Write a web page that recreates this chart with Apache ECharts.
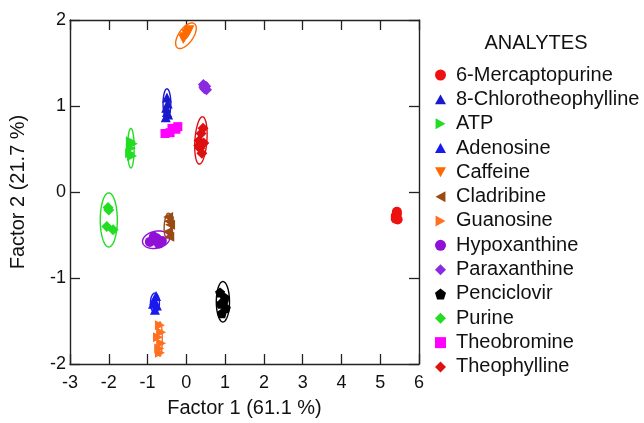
<!DOCTYPE html>
<html><head><meta charset="utf-8">
<script src="https://cdn.jsdelivr.net/npm/echarts@6/dist/echarts.min.js"></script>
<style>html,body{margin:0;padding:0;background:#fff}#c{width:644px;height:423px}</style>
</head><body><div id="c"></div>
<script>
const xTicks = [-3, -2, -1, 0, 1, 2, 3, 4, 5, 6];
const yTicks = [-2, -1, 0, 1, 2];
const analytes = ['6-Mercaptopurine','8-Chlorotheophylline','ATP','Adenosine','Caffeine','Cladribine','Guanosine','Hypoxanthine','Paraxanthine','Penciclovir','Purine','Theobromine','Theophylline'];

const mercaptopurine = [[5.43,-0.23],[5.40,-0.28],[5.45,-0.32],[5.43,-0.26],[5.40,-0.31]];
const chlorotheophylline = [[-0.50,1.10],[-0.48,1.03],[-0.52,0.98],[-0.50,0.93],[-0.47,0.90],[-0.53,0.87]];
const atp = [[-1.43,0.59],[-1.38,0.56],[-1.45,0.45],[-1.40,0.42],[-1.43,0.51]];
const adenosine = [[-0.78,-1.21],[-0.83,-1.26],[-0.76,-1.32],[-0.81,-1.37],[-0.86,-1.30]];
const caffeine = [[-0.08,1.78],[0.00,1.83],[0.05,1.86],[-0.05,1.80],[0.08,1.88],[0.02,1.84]];
const cladribine = [[-0.47,-0.29],[-0.42,-0.38],[-0.47,-0.46],[-0.44,-0.52],[-0.45,-0.34]];
const guanosine = [[-0.68,-1.55],[-0.65,-1.63],[-0.73,-1.69],[-0.65,-1.76],[-0.70,-1.82],[-0.68,-1.87]];
const hypoxanthine = [[-0.94,-0.58],[-0.76,-0.54],[-0.63,-0.57],[-0.84,-0.52],[-0.71,-0.60]];
const paraxanthine = [[0.44,1.25],[0.50,1.23],[0.47,1.20],[0.52,1.19],[0.45,1.22]];
const penciclovir = [[0.87,-1.17],[0.99,-1.23],[0.89,-1.30],[1.02,-1.35],[0.92,-1.41],[0.97,-1.27]];
const purine = [[-2.00,-0.21],[-2.05,-0.40],[-1.89,-0.44],[-2.02,-0.18]];
const theobromine = [[-0.55,0.68],[-0.37,0.74],[-0.22,0.76],[-0.42,0.69],[-0.27,0.73]];
const theophylline = [[0.43,0.74],[0.38,0.68],[0.33,0.60],[0.45,0.57],[0.35,0.51],[0.40,0.45],[0.32,0.54]];

// ellipse: [cx, cy, ux, uy, vx, vy] (two semi-axis vectors in data units)
const ellipses = [
  [5.42,-0.27,0,0.08,0.06,0],
  [-0.50,1.03,0,0.17,0.10,0],
  [-1.43,0.51,0,0.23,0.085,0],
  [-0.81,-1.29,0,0.115,0.115,0],
  [-0.01,1.817,0.22,0.14,-0.15,0.05],
  [-0.48,-0.39,0.02,0.145,0.09,0],
  [-0.68,-1.71,0,0.2,0.06,0],
  [-0.78,-0.555,0.35,0.02,0,0.1],
  [0.48,1.22,0,0.06,0.1,0],
  [0.943,-1.276,0,0.235,0.17,0],
  [-2.00,-0.325,0,0.315,0.22,0],
  null,
  [0.376,0.60,0.04,0.275,0.155,0]
];

const pointSets = [mercaptopurine, chlorotheophylline, atp, adenosine, caffeine, cladribine, guanosine, hypoxanthine, paraxanthine, penciclovir, purine, theobromine, theophylline];
const colors = ['#ee1111','#1a1acc','#22dd22','#1a1aee','#ff6a00','#9a4a12','#ff7020','#9010d8','#8a2be2','#000000','#22dd22','#ff00ff','#dd1111'];
const TRI_UP = 'path://M5,0 L10,9 L0,9 Z';
const TRI_DOWN = 'path://M0,0 L10,0 L5,9 Z';
const TRI_RIGHT = 'path://M0,0 L9,5 L0,10 Z';
const TRI_LEFT = 'path://M9,0 L0,5 L9,10 Z';
const PENTA = 'path://M5,0 L10,3.8 L8.1,10 L1.9,10 L0,3.8 Z';
const symbols = ['circle', TRI_UP, TRI_RIGHT, TRI_UP, TRI_DOWN, TRI_LEFT, TRI_RIGHT, 'circle', 'diamond', PENTA, 'diamond', 'rect', 'diamond'];
const symbolSizes = [10, 10, 10, 10, 10, 10, 10, 10, 11, 10, 11, 9, 11];

const series = [];
analytes.forEach((name, i) => {
  const e = ellipses[i];
  if (e) {
    series.push({
      type: 'custom', name: name + ' (ellipse)', silent: true, z: 1,
      data: [e],
      renderItem: function (params, api) {
        const cx = api.value(0), cy = api.value(1), ux = api.value(2), uy = api.value(3), vx = api.value(4), vy = api.value(5);
        const pts = [];
        for (let k = 0; k <= 72; k++) {
          const t = k / 72 * Math.PI * 2;
          pts.push(api.coord([cx + Math.cos(t) * ux + Math.sin(t) * vx, cy + Math.cos(t) * uy + Math.sin(t) * vy]));
        }
        return { type: 'polyline', shape: { points: pts }, style: { stroke: colors[i], lineWidth: 1.4, fill: null } };
      }
    });
  }
});
analytes.forEach((name, i) => {
  series.push({
    type: 'scatter', name: name, z: 3,
    symbol: symbols[i], symbolSize: symbolSizes[i],
    itemStyle: { color: colors[i], opacity: 1 },
    data: pointSets[i]
  });
});

const chart = echarts.init(document.getElementById('c'), null, { renderer: 'canvas' });
const FONT = 'Liberation Sans';
const axisCommon = {
  axisLine: { show: true, onZero: false, lineStyle: { color: '#222', width: 1.4 } },
  axisTick: { show: true, inside: true, length: 10, lineStyle: { color: '#222', width: 1.3 } },
  splitLine: { show: false }
};
chart.setOption({
  animation: false,
  backgroundColor: '#fff',
  textStyle: { fontFamily: FONT },
  title: { text: 'ANALYTES', left: 531, top: 28, textAlign: 'center',
    textStyle: { fontFamily: FONT, fontSize: 20, fontWeight: 'normal', color: '#111' } },
  legend: {
    data: analytes, orient: 'vertical', left: 430, top: 58,
    itemWidth: 11, itemHeight: 11, itemGap: 0.33,
    textStyle: { fontFamily: FONT, fontSize: 20, color: '#111', lineHeight: 24, padding: [0, 0, 0, 5] }
  },
  grid: { left: 70, right: 225, top: 20, bottom: 54 },
  xAxis: [
    Object.assign({ type: 'value', min: -3, max: 6, interval: 1, position: 'bottom',
      name: 'Factor 1 (61.1 %)', nameLocation: 'middle', nameGap: 34,
      nameTextStyle: { fontFamily: FONT, fontSize: 20, color: '#111' },
      axisLabel: { fontFamily: FONT, fontSize: 18, color: '#111', margin: 10,
        formatter: v => xTicks.includes(v) ? String(v) : '' } }, axisCommon),
    Object.assign({ type: 'value', min: -3, max: 6, interval: 1, position: 'top', axisLabel: { show: false } }, axisCommon)
  ],
  yAxis: [
    Object.assign({ type: 'value', min: -2, max: 2, interval: 1, position: 'left',
      name: 'Factor 2 (21.7 %)', nameLocation: 'middle', nameGap: 42,
      nameTextStyle: { fontFamily: FONT, fontSize: 20, color: '#111' },
      axisLabel: { fontFamily: FONT, fontSize: 18, color: '#111', margin: 4,
        formatter: v => yTicks.includes(v) ? String(v) : '' } }, axisCommon),
    Object.assign({ type: 'value', min: -2, max: 2, interval: 1, position: 'right', axisLabel: { show: false } }, axisCommon)
  ],
  series: series
});
</script></body></html>
